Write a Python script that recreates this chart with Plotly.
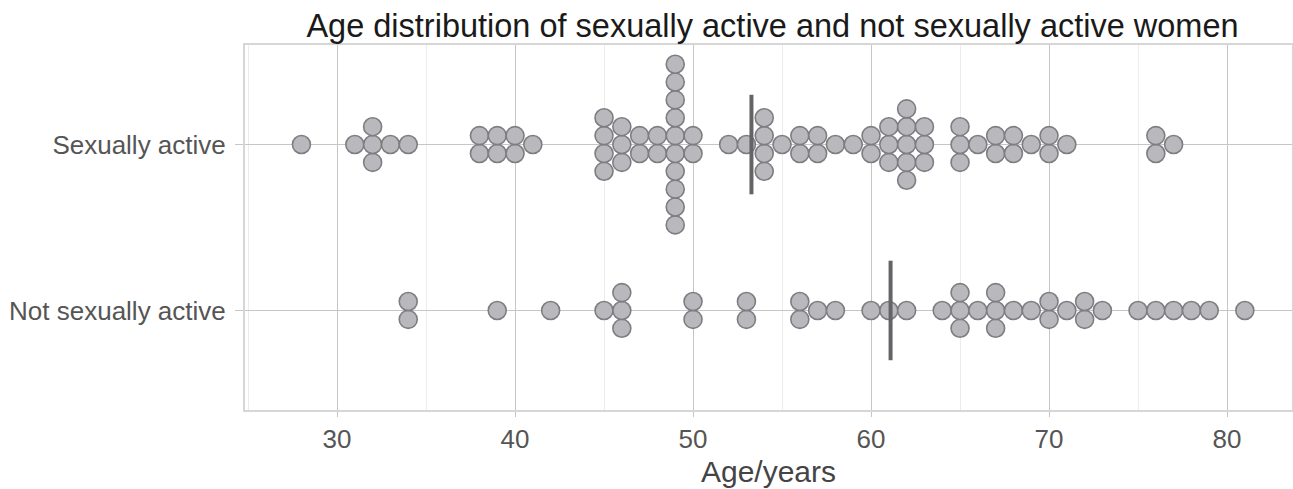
import plotly.graph_objects as go

# ---- data ----
groups = ["Sexually active", "Not sexually active"]

active_ages = [28, 31, 32, 33, 34, 38, 39, 40, 41, 45, 46, 47, 48, 49, 50, 52, 53, 54,
               55, 56, 57, 58, 59, 60, 61, 62, 63, 65, 66, 67, 68, 69, 70, 71, 76, 77]
active_counts = [1, 1, 3, 1, 1, 2, 2, 2, 1, 4, 3, 2, 2, 10, 2, 1, 1, 4,
                 1, 2, 2, 1, 1, 2, 3, 5, 3, 3, 1, 2, 2, 1, 2, 1, 2, 1]

inactive_ages = [34, 39, 42, 45, 46, 50, 53, 56, 57, 58, 60, 61, 62, 64, 65, 66, 67, 68,
                 69, 70, 71, 72, 73, 75, 76, 77, 78, 79, 81]
inactive_counts = [2, 1, 1, 1, 3, 2, 2, 2, 1, 1, 1, 1, 1, 1, 3, 1, 3, 1,
                   1, 2, 1, 2, 1, 1, 1, 1, 1, 1, 1]

x_ticks = [30, 40, 50, 60, 70, 80]

# ---- layout helpers ----
STEP = 0.1076          # vertical stacking distance in category units
HALF_LINE = 0.30       # half-length of the mean line
group_pos = {groups[0]: 1, groups[1]: 0}


def stack(ages, counts, centre):
    xs, ys = [], []
    for a, n in zip(ages, counts):
        for i in range(n):
            xs.append(a)
            ys.append(centre + (i - (n - 1) / 2) * STEP)
    return xs, ys


fig = go.Figure()

data = [(groups[0], active_ages, active_counts), (groups[1], inactive_ages, inactive_counts)]
for name, ages, counts in data:
    c = group_pos[name]
    xs, ys = stack(ages, counts, c)
    fig.add_trace(go.Scatter(
        x=xs, y=ys, mode="markers", name=name, showlegend=False,
        marker=dict(size=18, color="#b8b8bd", line=dict(color="#7d7d82", width=1.6)),
        hoverinfo="x",
    ))

for name, ages, counts in data:
    c = group_pos[name]
    total = sum(counts)
    mean = sum(a * n for a, n in zip(ages, counts)) / total
    fig.add_trace(go.Scatter(
        x=[mean, mean], y=[c - HALF_LINE, c + HALF_LINE], mode="lines",
        line=dict(color="#646468", width=4), showlegend=False, hoverinfo="skip",
    ))

FONT = "Liberation Sans, Arial, sans-serif"

fig.update_layout(
    width=1293, height=489, autosize=False,
    margin=dict(l=245, r=1, t=45, b=79, autoexpand=False),
    paper_bgcolor="white", plot_bgcolor="white",
    font=dict(family=FONT, color="#4d4d4d"),
    title=dict(
        text="Age distribution of sexually active and not sexually active women",
        x=0.5 + 4 / 1047, xref="paper", xanchor="center",
        y=1 - 14 / 489, yref="container", yanchor="top",
        font=dict(size=32.5, color="#1a1a1a", family=FONT),
    ),
    xaxis=dict(
        range=[24.83, 83.65],
        tickvals=x_ticks, ticktext=[str(v) for v in x_ticks],
        tickfont=dict(size=26, color="#555555"),
        showgrid=True, gridcolor="#c6c6c6", gridwidth=1.2,
        minor=dict(dtick=5, tick0=25, showgrid=True, gridcolor="#ececec", gridwidth=1),
        zeroline=False,
        showline=True, mirror=True, linecolor="#d6d6d6", linewidth=2,
        ticks="outside", ticklen=5, tickcolor="#c6c6c6", tickwidth=1.2,
        title=dict(text="Age/years", font=dict(size=30, color="#444444"), standoff=8),
    ),
    yaxis=dict(
        range=[-0.6, 1.6],
        tickvals=[group_pos[g] for g in groups], ticktext=groups,
        tickfont=dict(size=26, color="#555555"),
        showgrid=True, gridcolor="#c6c6c6", gridwidth=1.2,
        zeroline=False,
        showline=True, mirror=True, linecolor="#d6d6d6", linewidth=2,
        ticks="outside", ticklen=8, tickcolor="#c6c6c6", tickwidth=1.2,
        ticklabelstandoff=4,
    ),
)

fig.write_html(
    "out.html",
    config={"responsive": False, "displayModeBar": False},
    post_script="document.body.style.margin='0px';document.body.style.overflow='hidden';",
)
